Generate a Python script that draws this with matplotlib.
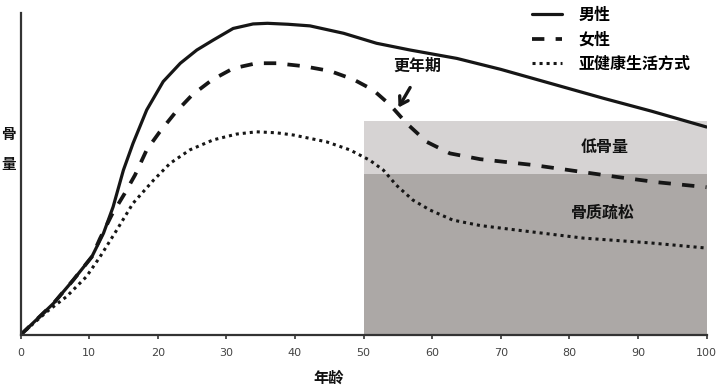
import matplotlib
matplotlib.use("Agg")
import matplotlib.pyplot as plt
from matplotlib.patches import Rectangle

plt.rcParams['font.family'] = ['Noto Sans CJK SC', 'DejaVu Sans']

# ---- data (bone mass, arbitrary units; axis top = 100) ----
men_x = [0, 2.4, 4.8, 7.7, 10.4, 12.1, 13.5, 15.0, 16.4, 18.4, 20.8, 23.3, 25.7, 28.1, 31.0, 33.9, 36, 39,
         42.2, 47.1, 51.9, 56.8, 63.6, 70, 77, 85, 92, 100]
men_y = [0, 4.9, 9.8, 17.1, 24.3, 31.6, 39.8, 51.2, 59.5, 69.9, 78.7, 84.4, 88.5, 91.6, 95.2, 96.6, 96.8, 96.5,
         96.0, 93.7, 90.6, 88.5, 85.9, 82.5, 78.3, 73.5, 69.5, 64.6]

women_x = [0, 2.4, 4.8, 7.7, 10.4, 11.6, 13.3, 15.2, 16.7, 18.4, 20.3, 22.5, 25.0, 27.9, 31.0, 34.4, 37.3,
           41.2, 45.1, 48.5, 51.4, 53.9, 56.3, 59.2, 62.6, 67, 74.7, 80, 86.9, 93, 100]
women_y = [0, 4.9, 9.8, 17.1, 24.3, 30.0, 37.3, 44.0, 49.7, 57.5, 63.1, 68.9, 74.5, 79.2, 82.8, 84.4, 84.4,
           83.5, 82.0, 79.4, 76.1, 71.4, 65.7, 60.0, 56.4, 54.6, 52.8, 51.2, 49.1, 47.4, 45.9]

unhealthy_x = [0, 2, 4, 6.7, 9.6, 11.6, 14.0, 16.4, 19.4, 21.8, 24.7, 28.1, 31.5, 34.4, 37.3, 39.8, 44.6,
               48.0, 50.9, 52.9, 54.8, 57.2, 59.7, 63, 67, 72.3, 82, 91.8, 100]
unhealthy_y = [0, 3.8, 7.5, 11.9, 18.1, 24.3, 32.5, 40.9, 48.1, 53.3, 57.5, 60.6, 62.4, 63.1, 62.8, 62.1, 60.0,
               57.5, 54.3, 51.2, 46.5, 41.9, 38.8, 35.7, 34.0, 32.6, 30.1, 28.6, 27.0]

zone_x = [50, 100]            # age range of shaded zones
osteoporosis_top = 50         # 骨质疏松 upper bound
low_mass_top = 66.5           # 低骨量 upper bound

series_labels = ['男性', '女性', '亚健康生活方式']
xticks = [0, 10, 20, 30, 40, 50, 60, 70, 80, 90, 100]

# ---- figure ----
fig = plt.figure(figsize=(7.2, 3.9), dpi=100)
ax = fig.add_axes([20.5/720, 1-335/390, (706.5-20.5)/720, (335-13)/390])
ax.set_xlim(0, 100)
ax.set_ylim(0, 100)

# zones
ax.add_patch(Rectangle((zone_x[0], osteoporosis_top), zone_x[1]-zone_x[0], low_mass_top-osteoporosis_top,
                       facecolor='#d6d3d3', edgecolor='none', zorder=0))
ax.add_patch(Rectangle((zone_x[0], 0), zone_x[1]-zone_x[0], osteoporosis_top,
                       facecolor='#aca8a6', edgecolor='none', zorder=0))

lc = '#161616'
l1, = ax.plot(men_x, men_y, color=lc, lw=2.3, solid_capstyle='round', solid_joinstyle='round',
              label=series_labels[0])
l2, = ax.plot(women_x, women_y, color=lc, lw=2.7, dashes=(3.3, 3.0), label=series_labels[1])
l3, = ax.plot(unhealthy_x, unhealthy_y, color=lc, lw=2.2, dashes=(1.0, 1.3), label=series_labels[2])

# spines / ticks
for s in ['top', 'right']:
    ax.spines[s].set_visible(False)
for s in ['left', 'bottom']:
    ax.spines[s].set_linewidth(1.6)
    ax.spines[s].set_color('#333333')
ax.set_yticks([])
ax.set_xticks(xticks)
ax.tick_params(axis='x', direction='out', length=3, width=1.2, color='#333333', pad=6,
               labelsize=8, labelcolor='#444444')
for lab in ax.get_xticklabels():
    lab.set_family(['Liberation Sans Narrow', 'DejaVu Sans'])

# legend
leg = ax.legend(handles=[l1, l2, l3], loc='upper left', bbox_to_anchor=(532/720, 1-7/390),
                bbox_transform=fig.transFigure, frameon=False, prop={'size': 11.5, 'weight': 'bold'},
                handlelength=1.9, handletextpad=1.0, labelspacing=0.51, borderpad=0, borderaxespad=0)

# annotations
ax.annotate('', xy=(54.9, 69.9), xytext=(57.0, 77.6),
            arrowprops=dict(arrowstyle='->,head_length=0.55,head_width=0.35', lw=2.4, color=lc))
ax.text(57.9, 83.5, '更年期', ha='center', va='center', fontsize=11.5, fontweight='bold', color='#111111')
ax.text(85.1, 58.4, '低骨量', ha='center', va='center', fontsize=11.5, fontweight='bold', color='#111111')
ax.text(84.9, 37.9, '骨质疏松', ha='center', va='center', fontsize=11.5, fontweight='bold', color='#111111')

# axis labels
fig.text(8.5/720, 1-133.5/390, '骨', ha='center', va='center', fontsize=10.5, fontweight='bold', color='#111111')
fig.text(8.5/720, 1-164/390, '量', ha='center', va='center', fontsize=10.5, fontweight='bold', color='#111111')
fig.text(329/720, 1-378/390, '年龄', ha='center', va='center', fontsize=11, fontweight='bold', color='#111111')

fig.savefig('out.png', dpi=100)
